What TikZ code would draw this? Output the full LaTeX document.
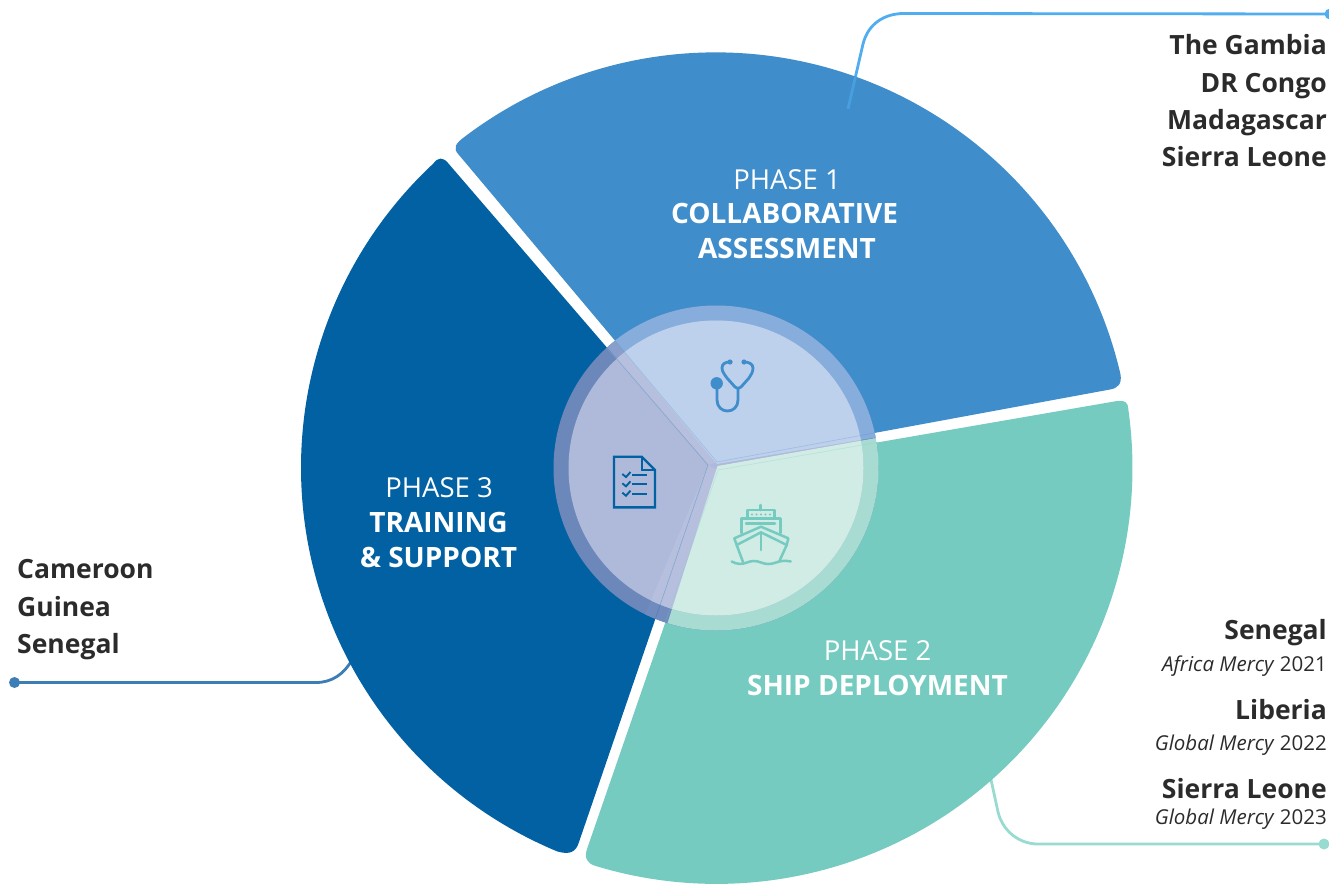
\documentclass[tikz,border=0pt]{standalone}
\usepackage{fontspec}
\setmainfont{Open Sans}
\definecolor{cblue}{HTML}{3F8DCB}
\definecolor{cdark}{HTML}{0261A2}
\definecolor{cteal}{HTML}{76CBC1}
\definecolor{cblueR}{HTML}{86ADDC}
\definecolor{cblueI}{HTML}{BDD0EC}
\definecolor{cdarkR}{HTML}{6C88BB}
\definecolor{cdarkI}{HTML}{AFB9D9}
\definecolor{ctealR}{HTML}{A8DCD3}
\definecolor{ctealI}{HTML}{D1EBE5}
\definecolor{cgapR}{HTML}{8A9ECB}
\definecolor{cgapI}{HTML}{B6C0DE}
\definecolor{ctext}{HTML}{2B2B2B}
\definecolor{clineA}{HTML}{4FADF0}
\definecolor{clineB}{HTML}{3C7DB5}
\definecolor{clineC}{HTML}{98DBD0}
\tikzset{
  x=1pt,y=-1pt,
  lead/.style={line width=2.8pt},
  hair/.style={line width=0.6pt,draw opacity=0.28},
  ctry/.style={font=\fontsize{26.5}{26.5}\selectfont\bfseries,text=ctext,inner sep=0pt},
  ctryL/.style={ctry,anchor=base west},
  ctryR/.style={ctry,anchor=base east},
  ship/.style={font=\fontsize{20.5}{20.5}\selectfont,text=ctext,inner sep=0pt,anchor=base east},
  ph/.style={font=\fontsize{27.5}{27.5}\selectfont\color{white},inner sep=0pt,anchor=base},
  phb/.style={font=\fontsize{28}{28}\selectfont\bfseries\color{white},inner sep=0pt,anchor=base},
  dot/.style={circle,inner sep=0pt,minimum size=11pt},
}
\newcommand{\secA}{(717,462) -- (1110,389.5) .. controls (1118,388) and (1122,384) .. (1120.5,374.4)
  arc[start angle=13,end angle=127.1,radius=415.5pt]
  .. controls (456,143) and (452,148) .. (459,155) -- cycle}
\newcommand{\secB}{(718,470) -- (1117,401) .. controls (1125,400) and (1128,402) .. (1128.4,410)
  arc[start angle=8,end angle=-107,radius=416pt]
  .. controls (587,863) and (584,858) .. (587,849) -- cycle}
\newcommand{\secC}{(708,465) -- (579,842) .. controls (576,852) and (570,855) .. (557.5,851.5)
  arc[start angle=247.5,end angle=133,radius=415.5pt]
  .. controls (438,157) and (443,157) .. (448,163) -- cycle}
\begin{document}
\begin{tikzpicture}
\useasboundingbox (0,0) rectangle (1329,883);
% leaders under the sectors
\node[dot,fill=clineB] (dC) at (14.5,682.5) {};
\coordinate (eC) at (352,660);
\draw[lead,clineB] (dC.center) -- (316,682.5) .. controls (332,682.5) and (344,674) .. (eC);
\node[dot,fill=clineC] (dB) at (1324,844) {};
\coordinate (eB) at (990,775);
\draw[lead,clineC] (eB) -- (998,812) .. controls (1003,832) and (1020,844) .. (1038,844) -- (dB.center);
\node[dot,fill=clineA] (dA) at (1330,14) {};
\coordinate (eA) at (848,109);
\coordinate (mA) at (855.4,77);
\draw[lead,clineA] (mA) -- (863,44) .. controls (868,24) and (884,13.5) .. (904,13.5) -- (dA.center);
% sectors
\fill[cblue] \secA;
\fill[cteal] \secB;
\fill[cdark] \secC;
% leader seen over the blue sector
\draw[lead,clineA!55!cblue] (eA) -- (mA);
% hub
\coordinate (hub) at (716,468);
\begin{scope}
  \clip (hub) circle (162.5);
  \fill[cdarkR] (hub) circle (163);
  \fill[cgapR] (708,465) -- (570,306) -- (604,290) -- (717,462) -- cycle;
  \fill[cdarkR!85!cgapR] (708,465) -- (626,660) -- (670,660) -- (718,470) -- cycle;
  \fill[cblueR] (717,464) -- (607,331) -- (600,250) -- (950,250) -- (950,425) -- cycle;
  \fill[ctealR] (717.5,466) -- (950,425) -- (950,760) -- (624,760) -- cycle;
  \begin{scope}
  \clip (hub) circle (147.5);
  \fill[cdarkI] (hub) circle (163);
  \fill[cgapI] (708,465) -- (570,306) -- (604,290) -- (717,462) -- cycle;
  \fill[cgapI] (708,465) -- (626,660) -- (670,660) -- (718,470) -- cycle;
  \fill[cblueI] (717,464) -- (607,331) -- (600,250) -- (950,250) -- (950,425) -- cycle;
  \fill[ctealI] (717.5,466) -- (950,425) -- (950,760) -- (624,760) -- cycle;
  \end{scope}
  % faint edges of the sectors seen through the hub
  \draw[hair,cblue] \secA;
  \draw[hair,cteal] \secB;
  \draw[hair,cdark] \secC;
\end{scope}
% phase labels
\node[ph] (p1) at (787,189) {PHASE 1};
\node[phb] (p1a) at (784.5,223.5) {COLLABORATIVE};
\node[phb] (p1b) at (787,258.5) {ASSESSMENT};
\node[ph] (p2) at (877.5,660) {PHASE 2};
\node[phb] (p2a) at (877.5,695) {SHIP DEPLOYMENT};
\node[ph] (p3) at (439,497) {PHASE 3};
\node[phb] (p3a) at (438.5,532.5) {TRAINING};
\node[phb] (p3b) at (438.5,567.5) {\& SUPPORT};
% countries
\node[ctryR] (a1) at (1327,54.5) {The Gambia};
\node[ctryR] (a2) at (1327,92) {DR Congo};
\node[ctryR] (a3) at (1327,129) {Madagascar};
\node[ctryR] (a4) at (1327,166) {Sierra Leone};
\node[ctryL] (c1) at (17,578) {Cameroon};
\node[ctryL] (c2) at (17,616) {Guinea};
\node[ctryL] (c3) at (17,653) {Senegal};
\node[ctryR] (b1) at (1327,639) {Senegal};
\node[ship] (b1s) at (1327,671) {\textit{Africa Mercy} 2021};
\node[ctryR] (b2) at (1327,719) {Liberia};
\node[ship] (b2s) at (1327,750) {\textit{Global Mercy} 2022};
\node[ctryR] (b3) at (1327,798) {Sierra Leone};
\node[ship] (b3s) at (1327,824) {\textit{Global Mercy} 2023};
% stethoscope
\begin{scope}[cblue,line width=2.8pt,line cap=round,line join=round]
  \fill (716.7,383.3) circle (6.2pt);
  \draw (717,388) -- (717,400) .. controls (717,407) and (722,411) .. (727.5,411) .. controls (733,411) and (738,407) .. (738,400) -- (738,388);
  \draw (730,362) .. controls (725,362) and (722,364) .. (722,368) .. controls (722,372) and (725,375) .. (727,378) -- (735,387) .. controls (737,389) and (739,389) .. (741,387) -- (749,378) .. controls (751,375) and (753,372) .. (753,368) .. controls (753,364) and (749,362) .. (744,362);
  \fill (730,362) circle (2.6pt);
  \fill (744,362) circle (2.6pt);
\end{scope}
% document
\begin{scope}[cdark,line width=2.4pt,line join=miter]
  \draw (614,456.7) -- (641.7,456.7) -- (655,470) -- (655,507.3) -- (614,507.3) -- cycle;
  \draw[line width=1.8pt] (641.7,456.7) -- (641.7,470) -- (655,470);
  \foreach \y in {475,484.3,493.7}{
    \draw[line width=1.9pt] (622.3,\y-1) -- (626,\y+2) -- (630.5,\y-3);
    \draw[line width=1.9pt] (632,\y) -- (646.7,\y);
  }
\end{scope}
% ship
\begin{scope}[cteal,line width=2.5pt,line join=round,line cap=round]
  \draw (760.7,505) -- (760.7,510);
  \draw (747.3,517) -- (747.3,510) -- (774.3,510) -- (774.3,517);
  \draw (741.7,533) -- (741.7,518.3) -- (780.7,518.3) -- (780.7,533);
  \draw (746,523.3) -- (775,523.3);
  \draw (734.3,538.3) -- (761,526.7) -- (788.3,538.3) -- (786.7,545) -- (761,532.3) -- (736.7,545) -- cycle;
  \draw (736.7,545) -- (743,562);
  \draw (786.7,545) -- (779,562);
  \draw (761,533) -- (761,550);
  \draw (731.7,561.5) .. controls (737,564.5) and (742,564.5) .. (747,562.5) .. controls (752,560.5) and (756,560.5) .. (761,562.5) .. controls (766,564.5) and (771,564.5) .. (776,562.5) .. controls (781,560.5) and (786,560.5) .. (790.7,561.5);
  \foreach \x in {752,756.5,761,765.5,770} \fill (\x,514.5) circle (1.2pt);
\end{scope}
\end{tikzpicture}
\end{document}
